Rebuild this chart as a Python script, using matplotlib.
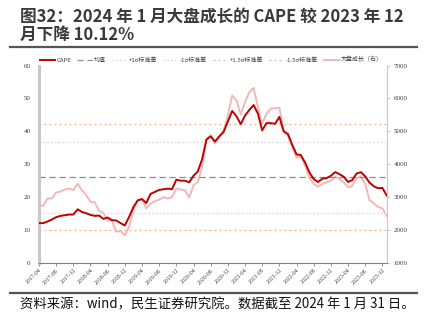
import numpy as np
import pandas as pd
import matplotlib
matplotlib.use("Agg")
import matplotlib.pyplot as plt

plt.rcParams['font.family'] = ['Noto Sans CJK SC', 'DejaVu Sans']

# monthly, 2017-04 .. 2024-01
months = pd.date_range("2017-04-01", "2024-01-01", freq="MS")

cape = [12.1, 12.1, 12.6, 13.2, 13.9, 14.3, 14.5, 14.7, 14.7, 16.3,
        15.5, 15.1, 14.6, 14.3, 14.4, 13.4, 13.8, 13.0, 12.9, 12.1,
        11.4, 14.0, 17.0, 19.0, 19.4, 18.2, 21.0, 21.6, 22.2, 22.4,
        22.6, 22.4, 25.3, 25.0, 25.0, 24.5, 26.5, 27.8, 31.5, 37.5,
        38.5, 36.9, 38.5, 39.8, 43.0, 46.2, 44.6, 42.2, 44.8, 46.5,
        48.0, 45.4, 40.3, 42.5, 42.5, 42.3, 44.4, 40.0, 39.2, 35.9,
        33.0, 32.8, 30.5, 27.5, 25.5, 24.6, 25.6, 25.8, 26.5, 27.6,
        27.0, 26.2, 24.6, 25.2, 27.2, 27.6, 26.3, 24.4, 23.3, 22.7,
        22.8, 20.5]

growth = [2740, 2740, 2960, 2960, 3140, 3170, 3230, 3260, 3210, 3410,
          3210, 3060, 2860, 2840, 2580, 2525, 2300, 2280, 1950, 1970,
          1840, 2100, 2600, 2910, 2960, 2660, 2800, 2880, 2920, 3000,
          2960, 3000, 3260, 3230, 3210, 2990, 3360, 3460, 3920, 4750,
          4880, 4630, 4820, 5010, 5480, 6090, 5940, 5510, 5890, 6190,
          6320, 5740, 5230, 5540, 5690, 5700, 5720, 5030, 4850, 4520,
          4200, 4240, 3950, 3600, 3400, 3320, 3400, 3450, 3500, 3620,
          3550, 3450, 3300, 3350, 3580, 3620, 3400, 2910, 2810, 2700,
          2660, 2430]

cape_mean = 26.1
cape_std = 10.8

x = np.arange(len(months))
tick_idx = x[::4]
tick_labels = [m.strftime("%Y-%m") for m in months[::4]]

fig = plt.figure(figsize=(4.26, 3.23), dpi=100)
ax = fig.add_axes([0.0915, 0.186, 0.8162, 0.611])
ax2 = ax.twinx()

l_cape, = ax.plot(x, cape, color='#C00000', lw=1.4, label='CAPE', zorder=5)
l_mean = ax.axhline(cape_mean, color='#8c8c8c', lw=0.9, ls=(0, (5, 3)), label='均值')
l_p1 = ax.axhline(cape_mean + cape_std, color='#dcdcdc', lw=0.9, ls=(0, (1.5, 1.5)), label='+1σ标准差')
l_m1 = ax.axhline(cape_mean - cape_std, color='#dcdcdc', lw=0.9, ls=(0, (1.5, 1.5)), label='-1σ标准差')
l_p15 = ax.axhline(cape_mean + 1.5 * cape_std, color='#F4B183', lw=0.9, ls=(0, (1.5, 2.5)), label='+1.5σ标准差')
l_m15 = ax.axhline(cape_mean - 1.5 * cape_std, color='#F4B183', lw=0.9, ls=(0, (1.5, 2.5)), label='-1.5σ标准差')
l_gr, = ax2.plot(x, growth, color='#F2B8B8', lw=1.4, label='大盘成长（右）')
ax.set_zorder(ax2.get_zorder() + 1)
ax.patch.set_visible(False)

ax.set_xlim(0, len(x) - 1)
ax.set_ylim(0, 60)
ax.set_yticks(range(0, 61, 10))
ax2.set_ylim(1000, 7000)
ax2.set_yticks(range(1000, 7001, 1000))

ax.set_xticks(tick_idx)
ax.set_xticklabels(tick_labels, rotation=45, ha='right', rotation_mode='anchor',
                   fontsize=4.2, family='Liberation Serif')
for lab in ax.get_yticklabels() + ax2.get_yticklabels():
    lab.set_family('Liberation Serif')
    lab.set_fontsize(5)
ax.tick_params(axis='y', length=0, pad=6, colors='#404040')
ax.tick_params(axis='x', length=2, width=0.6, color='#808080', pad=1.5, colors='#404040')
ax2.tick_params(axis='y', length=2, width=0.6, color='#bfbfbf', pad=3, colors='#404040')

for a in (ax, ax2):
    a.spines['top'].set_visible(False)
ax.spines['left'].set_color('#c8c8c8')
ax.spines['left'].set_linewidth(2.2)
ax.spines['bottom'].set_color('#808080')
ax.spines['bottom'].set_linewidth(0.8)
ax.spines['right'].set_visible(False)
ax2.spines['left'].set_visible(False)
ax2.spines['bottom'].set_visible(False)
ax2.spines['right'].set_color('#c8c8c8')
ax2.spines['right'].set_linewidth(0.8)

handles = [l_cape, l_mean, l_p1, l_m1, l_p15, l_m15, l_gr]
fig.legend(handles=handles, labels=[h.get_label() for h in handles],
           loc='center', bbox_to_anchor=(0.496, 0.815), ncol=7, frameon=False,
           fontsize=4.3, handlelength=2.5, handletextpad=0.3, columnspacing=1.0,
           labelcolor='#404040')

fig.text(0.047, 0.975, '图32：2024 年 1 月大盘成长的 CAPE 较 2023 年 12\n月下降 10.12%',
         ha='left', va='top', fontsize=12, fontweight='bold', color='#3a3a3a',
         linespacing=1.0)
fig.add_artist(plt.Line2D([0.023, 0.98], [0.853, 0.853], color='#555555', lw=1.6))
fig.add_artist(plt.Line2D([0.023, 0.98], [0.093, 0.093], color='#555555', lw=1.6))
fig.text(0.047, 0.058, '资料来源：wind，民生证券研究院。数据截至 2024 年 1 月 31 日。',
         ha='left', va='center', fontsize=9.6, color='#111111')

fig.savefig('out.png', dpi=100)
